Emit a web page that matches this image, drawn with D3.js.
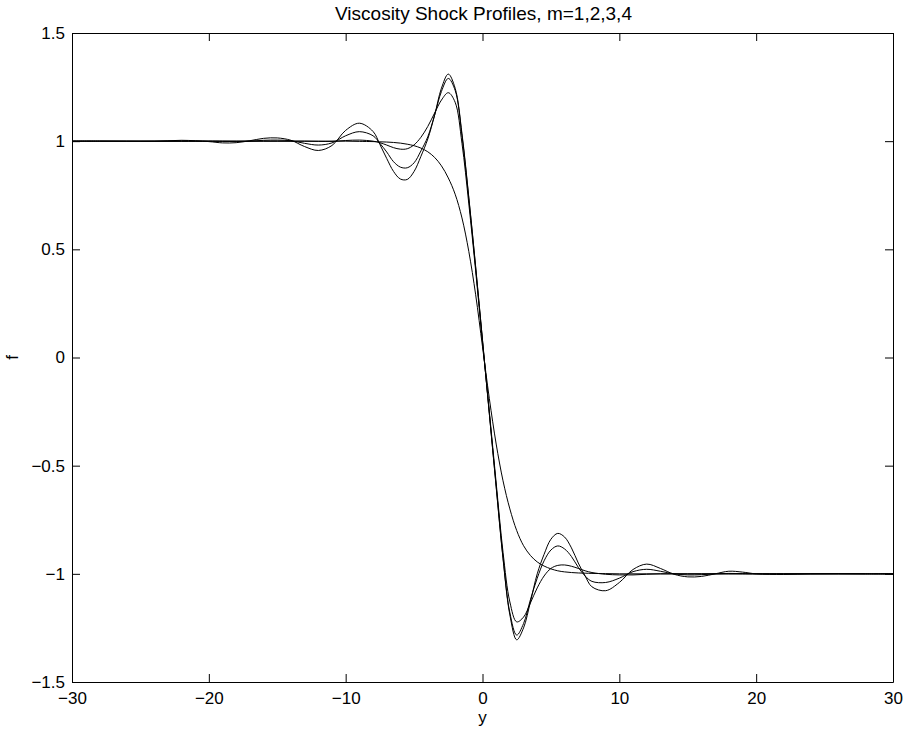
<!DOCTYPE html>
<html>
<head>
<meta charset="utf-8">
<script src="https://cdn.jsdelivr.net/npm/d3@7"></script>
<style>
  body { margin: 0; background: #fff; }
  text { font-family: "Liberation Sans", Arial, Helvetica, sans-serif; fill: #000; }
  .profile { fill: none; stroke: #000; stroke-width: 1; }
  .axis path, .axis line { stroke: #000; }
</style>
</head>
<body>
<div id="chart"></div>
<script>

// sample points along y
var yPos = [-30, -28, -26, -24, -22, -20, -19, -18, -17, -16, -15, -14, -13, -12, -11, -10, -9, -8,
  -7.5, -7, -6.5, -6, -5.5, -5, -4.5, -4, -3.5, -3, -2.5, -2, -1.5, -1, -0.5, 0,
  0.5, 1, 1.5, 2, 2.5, 3, 3.5, 4, 4.5, 5, 5.5, 6, 6.5, 7, 7.5,
  8, 9, 10, 11, 12, 13, 14, 15, 16, 17, 18, 19, 20, 22, 24, 26, 28, 30];

// m=1 : monotone profile
var m1 = [1, 1, 1, 1, 1, 1, 1, 1, 1, 1, 1, 1, 1, 1, 1, 1, 0.999, 0.998,
  0.997, 0.996, 0.994, 0.991, 0.986, 0.979, 0.968, 0.951, 0.925, 0.886, 0.83, 0.755, 0.645, 0.49, 0.29, 0.05,
  -0.19, -0.4, -0.57, -0.7, -0.8, -0.87, -0.915, -0.945, -0.964, -0.977, -0.986, -0.991, -0.994, -0.996, -0.997,
  -0.998, -0.999, -1, -1, -1, -1, -1, -1, -1, -1, -1, -1, -1, -1, -1, -1, -1, -1];

// m=2
var m2 = [1, 1, 1, 1, 1, 1, 1, 1, 1, 1, 1, 1, 1, 0.999, 0.999, 1.003, 1.005, 1.0,
  0.993, 0.982, 0.970, 0.963, 0.965, 0.983, 1.018, 1.068, 1.13, 1.19, 1.224, 1.18, 0.99, 0.71, 0.40, 0.07,
  -0.25, -0.58, -0.90, -1.13, -1.222, -1.20, -1.135, -1.065, -1.01, -0.975, -0.961, -0.959, -0.965, -0.975, -0.986,
  -0.994, -1.002, -1.005, -1.005, -1.002, -1, -1, -1, -1, -1, -1, -1, -1, -1, -1, -1, -1, -1];

// m=3
var m3 = [1, 1, 1, 1, 1, 1, 0.999, 0.998, 1.0, 1.004, 1.005, 1.002, 0.99, 0.982, 0.992, 1.025, 1.044, 1.025,
  0.99, 0.95, 0.905, 0.88, 0.877, 0.9, 0.955, 1.02, 1.12, 1.23, 1.29, 1.235, 1.025, 0.735, 0.415, 0.08,
  -0.26, -0.595, -0.925, -1.18, -1.283, -1.23, -1.12, -1.02, -0.94, -0.89, -0.871, -0.885, -0.92, -0.97, -1.01,
  -1.035, -1.04, -1.02, -0.99, -0.979, -0.988, -1.0, -1.005, -1.004, -1.0, -0.998, -0.999, -1, -1, -1, -1, -1, -1];

// m=4
var m4 = [1, 1, 0.999, 0.999, 1.004, 0.998, 0.992, 0.993, 1.002, 1.013, 1.015, 1.004, 0.975, 0.957, 0.98, 1.05, 1.083, 1.045,
  0.985, 0.92, 0.86, 0.825, 0.823, 0.86, 0.93, 1.01, 1.12, 1.245, 1.31, 1.245, 1.035, 0.74, 0.42, 0.08,
  -0.26, -0.60, -0.93, -1.19, -1.305, -1.25, -1.13, -1.0, -0.91, -0.84, -0.813, -0.83, -0.88, -0.95, -1.01,
  -1.06, -1.078, -1.04, -0.98, -0.955, -0.975, -1.002, -1.014, -1.012, -1.0, -0.988, -0.992, -1.0, -1.003, -1.0, -0.999, -1, -1];

var yTicks = [-30, -20, -10, 0, 10, 20, 30];
var fTicks = [-1.5, -1, -0.5, 0, 0.5, 1, 1.5];

var profiles = [m1, m2, m3, m4];

// set the dimensions and margins of the graph
var margin = {top: 33, right: 13, bottom: 51, left: 72},
    width = 906 - margin.left - margin.right,
    height = 733 - margin.top - margin.bottom;

// set the ranges
var x = d3.scaleLinear().domain([-30, 30]).range([0, width]);
var y = d3.scaleLinear().domain([-1.5, 1.5]).range([height, 0]);

var line = d3.line()
    .x(function(d, i) { return x(yPos[i]); })
    .y(function(d) { return y(d); })
    .curve(d3.curveCatmullRom.alpha(0.5));

var svg = d3.select("#chart").append("svg")
    .attr("width", width + margin.left + margin.right)
    .attr("height", height + margin.top + margin.bottom)
  .append("g")
    .attr("transform", "translate(" + margin.left + "," + margin.top + ")");

var fmt = d3.format("");
var tick = 8;

// box with inward ticks on all four sides
svg.append("g")
    .attr("class", "axis")
    .attr("transform", "translate(0," + height + ")")
    .call(d3.axisBottom(x).tickValues(yTicks).tickFormat(fmt)
      .tickSizeInner(-tick).tickSizeOuter(0).tickPadding(10))
    .call(function(g) { g.selectAll("text").style("font-size", "17px"); });

svg.append("g")
    .attr("class", "axis")
    .call(d3.axisTop(x).tickValues(yTicks).tickFormat("")
      .tickSizeInner(-tick).tickSizeOuter(0));

svg.append("g")
    .attr("class", "axis")
    .call(d3.axisLeft(y).tickValues(fTicks).tickFormat(fmt)
      .tickSizeInner(-tick).tickSizeOuter(0).tickPadding(7))
    .call(function(g) { g.selectAll("text").style("font-size", "17px"); });

svg.append("g")
    .attr("class", "axis")
    .attr("transform", "translate(" + width + ",0)")
    .call(d3.axisRight(y).tickValues(fTicks).tickFormat("")
      .tickSizeInner(-tick).tickSizeOuter(0));

// the profiles
svg.selectAll(".profile")
    .data(profiles)
  .enter().append("path")
    .attr("class", "profile")
    .attr("d", line);

// title and axis labels
svg.append("text")
    .attr("x", width / 2 + 1)
    .attr("y", -13)
    .attr("text-anchor", "middle")
    .style("font-size", "19px")
    .text("Viscosity Shock Profiles, m=1,2,3,4");

svg.append("text")
    .attr("x", width / 2)
    .attr("y", height + 41)
    .attr("text-anchor", "middle")
    .style("font-size", "17px")
    .text("y");

svg.append("text")
    .attr("transform", "translate(" + (18 - margin.left) + "," + (height / 2) + ") rotate(-90)")
    .attr("text-anchor", "middle")
    .style("font-size", "17px")
    .text("f");

</script>
</body>
</html>
